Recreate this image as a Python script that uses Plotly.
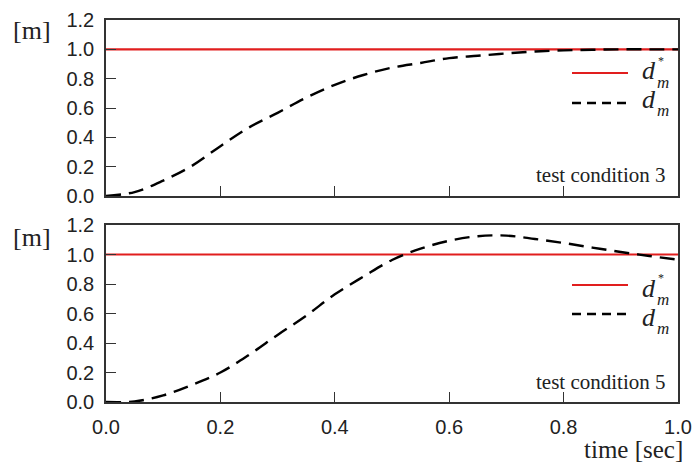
import plotly.graph_objects as go

# ---- data ----
t = [0.0, 0.05, 0.1, 0.15, 0.2, 0.25, 0.3, 0.35, 0.4, 0.45, 0.5,
     0.55, 0.6, 0.65, 0.7, 0.75, 0.8, 0.85, 0.9, 0.95, 1.0]
d_ref = [1.0] * len(t)
d_cond3 = [0.0, 0.027, 0.105, 0.205, 0.34, 0.467, 0.567, 0.671, 0.758, 0.825, 0.875,
           0.907, 0.94, 0.956, 0.972, 0.985, 0.993, 0.997, 1.0, 1.0, 1.0]
d_cond5 = [0.0, 0.004, 0.045, 0.115, 0.2, 0.32, 0.455, 0.585, 0.73, 0.85, 0.963,
           1.04, 1.093, 1.124, 1.128, 1.105, 1.078, 1.047, 1.017, 0.99, 0.965]
x_ticks = [0.0, 0.2, 0.4, 0.6, 0.8, 1.0]
y_ticks = [0.0, 0.2, 0.4, 0.6, 0.8, 1.0, 1.2]
panel_labels = ["test condition 3", "test condition 5"]

W, H = 694, 464
L, R, T, B = 106, 16, 20, 62
PW, PH = W - L - R, H - T - B


def px(x):
    return (x - L) / PW


def py(y):
    return (H - B - y) / PH


SERIF = "Liberation Serif, Times New Roman, serif"
SANS = "Liberation Sans, Arial, sans-serif"
RED = "rgb(225,30,30)"
TXT = "#222"

fig = go.Figure()
for vals, xa, ya in [(d_cond3, "x", "y"), (d_cond5, "x2", "y2")]:
    fig.add_trace(go.Scatter(x=t, y=d_ref, mode="lines", xaxis=xa, yaxis=ya,
                             line=dict(color=RED, width=2.2), showlegend=False))
    fig.add_trace(go.Scatter(x=t, y=vals, mode="lines", xaxis=xa, yaxis=ya,
                             line=dict(color="black", width=2.4, dash="15px,8px", shape="spline"),
                             showlegend=False))

top_dom = [py(196), 1.0]
bot_dom = [0.0, py(225)]

axis_common = dict(range=[0, 1], showline=True, mirror=True, linecolor="#333", linewidth=1.5,
                   ticks="inside", ticklen=10, tickcolor="#333", tickwidth=1.2,
                   showgrid=False, zeroline=False, tickvals=x_ticks, tickformat=".1f",
                   automargin=False,
                   tickfont=dict(family=SANS, size=20, color=TXT))
yaxis_common = dict(range=[0, 1.2], showline=True, mirror=True, linecolor="#333", linewidth=1.5,
                    ticks="inside", ticklen=10, tickcolor="#333", tickwidth=1.2,
                    showgrid=False, zeroline=False, tickvals=y_ticks, tickformat=".1f",
                    automargin=False,
                    tickfont=dict(family=SANS, size=20, color=TXT), ticklabelstandoff=6)

fig.update_layout(
    width=W, height=H, margin=dict(l=L, r=R, t=T, b=B, autoexpand=False),
    paper_bgcolor="white", plot_bgcolor="white",
    xaxis=dict(**axis_common, anchor="y", showticklabels=False),
    yaxis=dict(**yaxis_common, domain=top_dom, anchor="x"),
    xaxis2=dict(**axis_common, anchor="y2", ticklabelstandoff=6),
    yaxis2=dict(**yaxis_common, domain=bot_dom, anchor="x2"),
)

ann = []
shapes = []


def note(text, x, y, size, xanchor="left", yanchor="middle", family=SERIF):
    ann.append(dict(text=text, xref="paper", yref="paper", x=px(x), y=py(y),
                    xanchor=xanchor, yanchor=yanchor, showarrow=False,
                    font=dict(family=family, size=size, color=TXT)))


# legends per panel: (red sample row, dashed sample row, baseline of first d, baseline of second d)
for ref_y, dash_y, b1, b2 in [(73, 103, 79, 107), (285, 314, 296, 325)]:
    shapes.append(dict(type="line", xref="paper", yref="paper", x0=px(572), x1=px(628),
                       y0=py(ref_y), y1=py(ref_y), line=dict(color=RED, width=2.2)))
    shapes.append(dict(type="line", xref="paper", yref="paper", x0=px(572), x1=px(628),
                       y0=py(dash_y), y1=py(dash_y), line=dict(color="black", width=2.4, dash="9px,6px")))
    for base, star in [(b1, True), (b2, False)]:
        note("<i>d</i>", 640, base - 8, 26)
        note("<i>m</i>", 655, base - 8, 17, yanchor="top")
        if star:
            note("*", 656, base - 9, 12, yanchor="bottom")

for label, yc in zip(panel_labels, [175, 382]):
    note(label, 668, yc, 21, xanchor="right")

for yc in [31, 237]:
    note("[m]", 11, yc, 26)

note("time [sec]", 685, 449, 25, xanchor="right")

fig.update_layout(annotations=ann, shapes=shapes)
fig.write_html("out.html")
